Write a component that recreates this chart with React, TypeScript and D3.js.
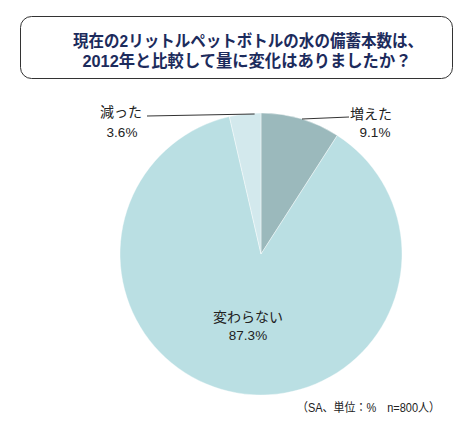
import React from "react";
import * as d3 from "d3";

const categories = ["増えた", "変わらない", "減った"];
const values = [9.1, 87.3, 3.6];
const titleLines = ["現在の2リットルペットボトルの水の備蓄本数は、", "2012年と比較して量に変化はありましたか？"];
const footnote = "（SA、単位：%　n=800人）";

const W = 468;
const H = 431;
const colors = ["#9bb9bc", "#badfe3", "#d3e9ed"];
const FONT = "'Liberation Sans', 'Noto Sans CJK JP', sans-serif";

export default function App() {
  const cx = 261;
  const cy = 254;
  const r = 141;
  const pie = d3.pie<number>().sort(null).value((d) => d);
  const arcs = pie(values);
  const arcGen = d3.arc<d3.PieArcDatum<number>>().innerRadius(0).outerRadius(r);

  const decAng = arcs[2].startAngle + (arcs[2].endAngle - arcs[2].startAngle) * 0.8;
  const decX = cx + Math.sin(decAng) * r;

  return (
    <svg
      width={W}
      height={H}
      style={{ position: "absolute", left: 0, top: 0, background: "#fff" }}
      fontFamily={FONT}
    >
      <rect x={20.5} y={16.5} width={432} height={62} rx={11} ry={11} fill="#fff" stroke="#333" strokeWidth={1} />
      <text x={248} y={47} textAnchor="middle" fontSize={16.5} fontWeight="bold" fill="#1c2b5c" textLength={350} lengthAdjust="spacingAndGlyphs">
        {titleLines[0]}
      </text>
      <text x={247} y={67} textAnchor="middle" fontSize={16.5} fontWeight="bold" fill="#1c2b5c" textLength={329} lengthAdjust="spacingAndGlyphs">
        {titleLines[1]}
      </text>

      <g transform={`translate(${cx},${cy})`}>
        {arcs.map((a, i) => (
          <path key={i} d={arcGen(a) || ""} fill={colors[i]} stroke="#fff" strokeWidth={0.4} />
        ))}
      </g>

      {/* increased label */}
      <line x1={302} y1={119} x2={349} y2={117} stroke="#333" strokeWidth={1} />
      <text x={350} y={119} fontSize={14} fill="#222">{categories[0]}</text>
      <text x={375} y={137} fontSize={13.5} fill="#222" textAnchor="middle">{values[0].toFixed(1)}%</text>

      {/* decreased label */}
      <line x1={147} y1={116} x2={decX} y2={114} stroke="#333" strokeWidth={1} />
      <text x={100} y={117} fontSize={14} fill="#222">{categories[2]}</text>
      <text x={122} y={137} fontSize={13.5} fill="#222" textAnchor="middle">{values[2].toFixed(1)}%</text>

      {/* unchanged label */}
      <text x={248} y={322} fontSize={14} fill="#222" textAnchor="middle">{categories[1]}</text>
      <text x={248} y={340} fontSize={13.5} fill="#222" textAnchor="middle">{values[1].toFixed(1)}%</text>

      <text x={297} y={412} fontSize={12} fill="#222" textLength={143} lengthAdjust="spacingAndGlyphs">{footnote}</text>
    </svg>
  );
}
